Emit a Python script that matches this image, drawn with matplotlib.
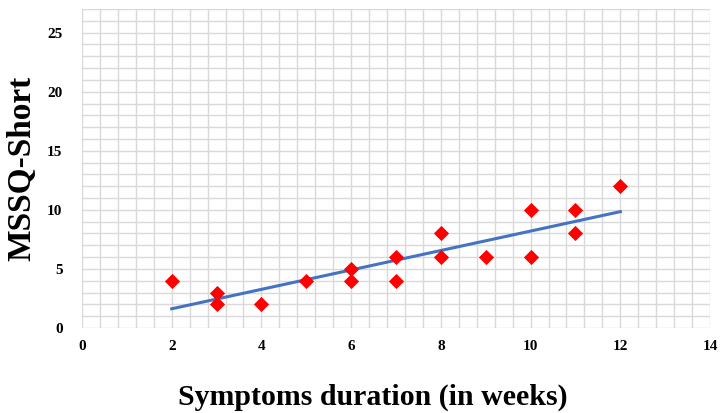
import numpy as np
import matplotlib.pyplot as plt
from matplotlib.ticker import MultipleLocator

plt.rcParams['font.family'] = ['Liberation Serif', 'DejaVu Serif']

# symptoms duration (weeks) and MSSQ-Short score
weeks = [2, 3, 3, 4, 5, 6, 6, 7, 7, 8, 8, 9, 10, 10, 11, 11, 12]
mssq = [4, 3, 2, 2, 4, 5, 4, 6, 4, 8, 6, 6, 10, 6, 10, 8, 12]

slope, intercept = np.polyfit(weeks, mssq, 1)
line_x = np.array([min(weeks), max(weeks)])
line_y = slope * line_x + intercept

fig = plt.figure(figsize=(7.22, 4.13), dpi=100)
ax = fig.add_axes([82 / 722, 1 - 328 / 413, (710 - 82) / 722, (328 - 9) / 413])

ax.plot(line_x, line_y, color="#4472C4", lw=2.2, zorder=3)
ax.scatter(weeks, mssq, marker="D", s=60, color="#FF0000", zorder=4, linewidths=0)

ax.set_xlim(0, 14)
ax.set_ylim(0, 27)
ax.xaxis.set_major_locator(MultipleLocator(2))
ax.yaxis.set_major_locator(MultipleLocator(5))
ax.xaxis.set_minor_locator(MultipleLocator(0.4))
ax.yaxis.set_minor_locator(MultipleLocator(1))
ax.grid(which="both", color="#d9d9d9", lw=1, zorder=0)
ax.set_axisbelow(True)
for s in ax.spines.values():
    s.set_visible(False)
ax.tick_params(which="both", length=0)
ax.tick_params(axis="x", pad=9)
ax.tick_params(axis="y", pad=14)
for lab in ax.get_xticklabels() + ax.get_yticklabels():
    lab.set_fontweight("bold")
    lab.set_fontsize(11)

ax.set_xlabel("Symptoms duration (in weeks)", fontsize=21.5, fontweight="bold", labelpad=22)
ax.xaxis.label.set_x(0.463)
ax.set_ylabel("MSSQ-Short", fontsize=24, fontweight="bold", labelpad=7)

fig.savefig("out.png", dpi=100)
